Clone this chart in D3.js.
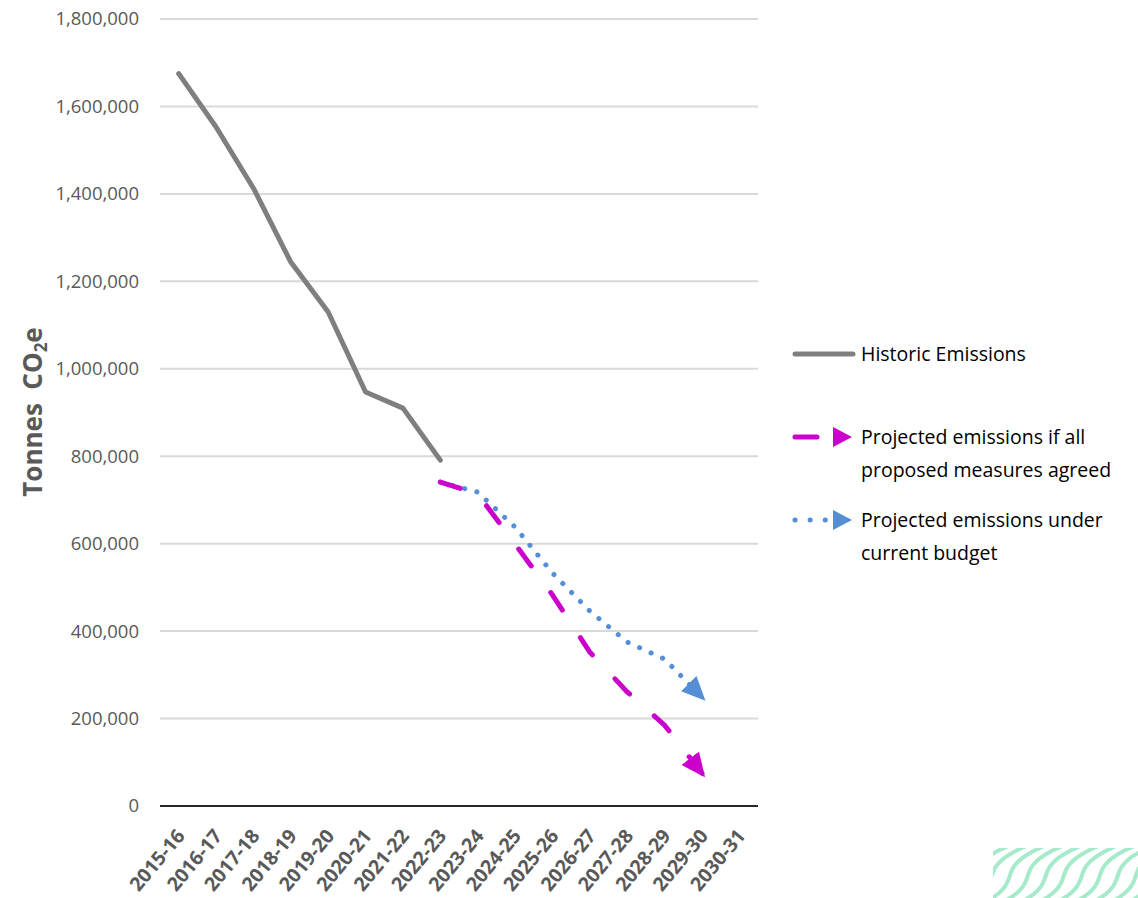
<!DOCTYPE html>
<html>
<head>
<meta charset="utf-8">
<script src="https://cdn.jsdelivr.net/npm/d3@7/dist/d3.min.js"></script>
<style>
  body { margin: 0; background: #fff; }
  text { font-family: "Open Sans", sans-serif; }
</style>
</head>
<body>
<div id="chart"></div>
<script>
// categories
const years = ['2015-16', '2016-17', '2017-18', '2018-19', '2019-20', '2020-21', '2021-22', '2022-23',
  '2023-24', '2024-25', '2025-26', '2026-27', '2027-28', '2028-29', '2029-30', '2030-31'];
const historicYears = years.slice(0, 8);
const projectedYears = years.slice(7, 15);

// series values (tonnes CO2e)
const historic = [1675000, 1553000, 1413000, 1244000, 1130000, 947000, 910000, 791000];
const allMeasures = [741000, 714000, 599000, 483000, 352000, 261000, 185000, 75000];
const currentBudget = [741000, 718000, 638000, 533000, 446000, 375000, 336000, 249000];

const yTicks = [0, 200000, 400000, 600000, 800000, 1000000, 1200000, 1400000, 1600000, 1800000];

const legendItems = [
  { key: 'hist', lines: ['Historic Emissions'] },
  { key: 'meas', lines: ['Projected emissions if all', 'proposed measures agreed'] },
  { key: 'budg', lines: ['Projected emissions under', 'current budget'] }
];

const W = 1138, H = 898;
const plot = { left: 160, right: 758, top: 19, bottom: 806 };
const colors = { hist: '#7f7f7f', meas: '#cc00cc', budg: '#558ed5', axis: '#595959', grid: '#d9d9d9' };

const svg = d3.select('#chart').append('svg')
  .attr('width', W)
  .attr('height', H);

const x = d3.scaleBand().domain(years).range([plot.left, plot.right]).padding(0);
const y = d3.scaleLinear().domain([0, 1800000]).range([plot.bottom, plot.top]);
const cx = d => x(d) + x.bandwidth() / 2;

// arrow markers
const defs = svg.append('defs');
[['meas', colors.meas], ['budg', colors.budg]].forEach(([k, c]) => {
  defs.append('marker')
    .attr('id', 'arrow-' + k)
    .attr('markerUnits', 'userSpaceOnUse')
    .attr('viewBox', '0 0 24 22')
    .attr('refX', 19).attr('refY', 11)
    .attr('markerWidth', 24).attr('markerHeight', 22)
    .attr('orient', 'auto')
    .append('path')
    .attr('d', 'M0,0L24,11L0,22Z')
    .attr('fill', c);
});

// gridlines
svg.append('g')
  .selectAll('line')
  .data(yTicks.filter(d => d > 0))
  .join('line')
  .attr('x1', plot.left).attr('x2', plot.right)
  .attr('y1', d => y(d)).attr('y2', d => y(d))
  .attr('stroke', colors.grid)
  .attr('stroke-width', 2);

// y axis
const yAxis = svg.append('g')
  .attr('transform', `translate(${plot.left},0)`)
  .call(d3.axisLeft(y).tickValues(yTicks).tickFormat(d3.format(',')).tickSize(0).tickPadding(21));
yAxis.select('.domain').remove();
yAxis.selectAll('text')
  .attr('fill', colors.axis)
  .style('font-size', '18.5px');

// baseline
svg.append('line')
  .attr('x1', plot.left).attr('x2', plot.right)
  .attr('y1', y(0)).attr('y2', y(0))
  .attr('stroke', '#262626')
  .attr('stroke-width', 2);

// x axis labels
svg.append('g')
  .selectAll('text')
  .data(years)
  .join('text')
  .attr('transform', d => `translate(${cx(d) + 2},${plot.bottom + 26}) rotate(-50)`)
  .attr('text-anchor', 'end')
  .attr('dy', '0.35em')
  .attr('fill', colors.axis)
  .style('font-size', '19.5px')
  .style('font-weight', 'bold')
  .text(d => d);

// y axis title
const yt = svg.append('text')
  .attr('transform', `translate(42,${412}) rotate(-90)`)
  .attr('text-anchor', 'middle')
  .attr('fill', colors.axis)
  .style('font-size', '26px')
  .style('font-weight', 'bold')
  .style('white-space', 'pre');
yt.append('tspan').text('Tonnes  CO');
yt.append('tspan').attr('dy', 5).style('font-size', '17px').text('2');
yt.append('tspan').attr('dy', -5).text('e');

// lines
const line = d3.line().x(d => cx(d[0])).y(d => y(d[1]));

svg.append('path')
  .datum(d3.zip(projectedYears, currentBudget))
  .attr('d', line)
  .attr('fill', 'none')
  .attr('stroke', colors.budg)
  .attr('stroke-width', 5)
  .attr('stroke-linecap', 'round')
  .attr('stroke-dasharray', '0.1 12.5')
  .attr('marker-end', 'url(#arrow-budg)');

svg.append('path')
  .datum(d3.zip(projectedYears, allMeasures))
  .attr('d', line)
  .attr('fill', 'none')
  .attr('stroke', colors.meas)
  .attr('stroke-width', 5)
  .attr('stroke-linecap', 'round')
  .attr('stroke-dasharray', '21 33')
  .attr('marker-end', 'url(#arrow-meas)');

svg.append('path')
  .datum(d3.zip(historicYears, historic))
  .attr('d', line)
  .attr('fill', 'none')
  .attr('stroke', colors.hist)
  .attr('stroke-width', 5)
  .attr('stroke-linecap', 'round')
  .attr('stroke-linejoin', 'round');

// legend
const legend = svg.append('g').attr('transform', 'translate(793,0)');
const legendY = { hist: 354, meas: 437, budg: 520 };
legendItems.forEach(item => {
  const g = legend.append('g').attr('transform', `translate(0,${legendY[item.key]})`);
  if (item.key === 'hist') {
    g.append('line').attr('x1', 2).attr('x2', 60)
      .attr('stroke', colors.hist).attr('stroke-width', 5).attr('stroke-linecap', 'round');
  } else {
    const c = colors[item.key];
    if (item.key === 'meas') {
      g.append('line').attr('x1', 2).attr('x2', 24)
        .attr('stroke', c).attr('stroke-width', 5).attr('stroke-linecap', 'round');
    } else {
      g.append('line').attr('x1', 2).attr('x2', 33)
        .attr('stroke', c).attr('stroke-width', 5).attr('stroke-linecap', 'round')
        .attr('stroke-dasharray', '0.1 15');
    }
    g.append('path').attr('d', 'M40,-10L59,0L40,10Z').attr('fill', c);
  }
  item.lines.forEach((t, i) => {
    g.append('text')
      .attr('x', 68)
      .attr('y', i * 33)
      .attr('dy', '0.35em')
      .attr('fill', '#000')
      .style('font-size', '19.5px')
      .text(t);
  });
});

// decorative waves, bottom right
defs.append('clipPath').attr('id', 'decoClip')
  .append('rect').attr('x', 993).attr('y', 848).attr('width', 145).attr('height', 50);
const wave = d3.line().curve(d3.curveBasis);
const waveG = svg.append('g').attr('clip-path', 'url(#decoClip)');
d3.range(-6, 12).forEach(k => {
  const pts = d3.range(0, 13).map(j => {
    const t = j / 12;
    return [955 + k * 18 + t * 120 + 14 * Math.sin(t * Math.PI * 2.2), 915 - t * 85];
  });
  waveG.append('path')
    .attr('d', wave(pts))
    .attr('fill', 'none')
    .attr('stroke', '#a5ebcb')
    .attr('stroke-width', 4);
});
</script>
</body>
</html>
